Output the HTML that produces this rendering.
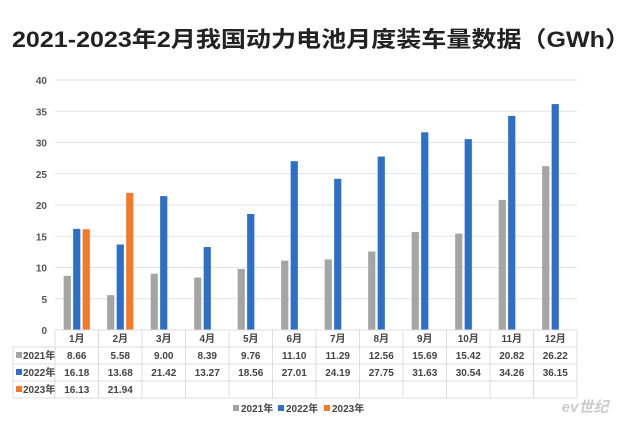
<!DOCTYPE html>
<html><head><meta charset="utf-8"><style>
html,body{margin:0;padding:0;background:#fff;}
body{width:640px;height:426px;overflow:hidden;font-family:"Liberation Sans","Noto Sans CJK SC",sans-serif;}
</style></head><body>
<svg id="chart" width="640" height="426" xmlns="http://www.w3.org/2000/svg">
<text x="12" y="47" textLength="618" lengthAdjust="spacingAndGlyphs" font-size="22" font-weight="bold" fill="#222" font-family="Liberation Sans,Noto Sans CJK SC,sans-serif">2021-2023年2月我国动力电池月度装车量数据（GWh）</text>
<g id="grid"></g><g id="bars"></g><g id="table"></g><g id="legend"></g>
<text x="585" y="412" font-size="15" font-style="italic" font-weight="bold" fill="#ccc" text-anchor="middle">ev世纪</text>
</svg>
<script>
const categories=["1月","2月","3月","4月","5月","6月","7月","8月","9月","10月","11月","12月"];
const seriesNames=["2021年","2022年","2023年"];
const s2021=[8.66,5.58,9.00,8.39,9.76,11.10,11.29,12.56,15.69,15.42,20.82,26.22];
const s2022=[16.18,13.68,21.42,13.27,18.56,27.01,24.19,27.75,31.63,30.54,34.26,36.15];
const s2023=[16.13,21.94];
const yTicks=[0,5,10,15,20,25,30,35,40];
const NS="http://www.w3.org/2000/svg";
const colors=["#a5a5a5","#2e6fc7","#f47a2a"];
const L=55,CW=43.5,Y0=330,YT=80,YMAX=40;
const y=v=>Y0-(v/YMAX)*(Y0-YT);
const xc=i=>L+CW*(i+0.5);
function mk(t,a,p){const e=document.createElementNS(NS,t);for(const k in a)e.setAttribute(k,a[k]);(p||document.getElementById('chart')).appendChild(e);return e;}
const grid=document.getElementById('grid');
yTicks.forEach(t=>{
 const l=mk('line',{x1:L,x2:L+CW*12,y1:y(t),y2:y(t),stroke:'#e3e3e3','stroke-width':1},grid);
 
 
 const tx=mk('text',{x:47,y:y(t)+4,'text-anchor':'end','font-size':10,fill:'#555','font-weight':'bold'},grid);
 tx.textContent=t;
 
 
});
const bars=document.getElementById('bars');
const all=[s2021,s2022,s2023];
all.forEach((s,si)=>{s.forEach((v,i)=>{
 const r=mk('rect',{x:xc(i)+(si-1)*9.5-3.6,y:y(v),width:7.2,height:Y0-y(v),fill:colors[si]},bars);
 
 
});});
const tb=document.getElementById('table');
const rowY=[330,347,364,381,398];
const lc='#dcdcdc';
rowY.forEach(ry=>{const l=mk('line',{x1:ry==330?L:13,x2:L+CW*12,y1:ry,y2:ry,stroke:lc},tb);});
mk('line',{x1:13,x2:13,y1:347,y2:398,stroke:lc},tb);
for(let i=0;i<=12;i++)mk('line',{x1:L+CW*i,x2:L+CW*i,y1:330,y2:398,stroke:lc},tb);
categories.forEach((c,i)=>{
 const t=mk('text',{x:xc(i),y:342,'text-anchor':'middle','font-size':10,'font-weight':'bold',fill:'#444'},tb);
 t.textContent=c;
 
 
});
all.forEach((s,si)=>{
 const ry=rowY[si+1];
 mk('rect',{x:16,y:ry+5,width:6,height:6,fill:colors[si]},tb);
 const lt=mk('text',{x:23,y:ry+12,'font-size':10,'font-weight':'bold',fill:'#444'},tb);
 lt.textContent=seriesNames[si];
 
 
 s.forEach((v,i)=>{
  const t=mk('text',{x:xc(i),y:ry+12,'text-anchor':'middle','font-size':10,'font-weight':'bold',fill:'#444'},tb);
  t.textContent=v.toFixed(2);
  
  
 });
});
const lg=document.getElementById('legend');
const lx=[233,278,324];
seriesNames.forEach((n,si)=>{
 mk('rect',{x:lx[si],y:405,width:6,height:6,fill:colors[si]},lg);
 const t=mk('text',{x:lx[si]+8,y:412,'font-size':10,'font-weight':'bold',fill:'#444'},lg);
 t.textContent=n;
 
 
});
</script>
</body></html>
